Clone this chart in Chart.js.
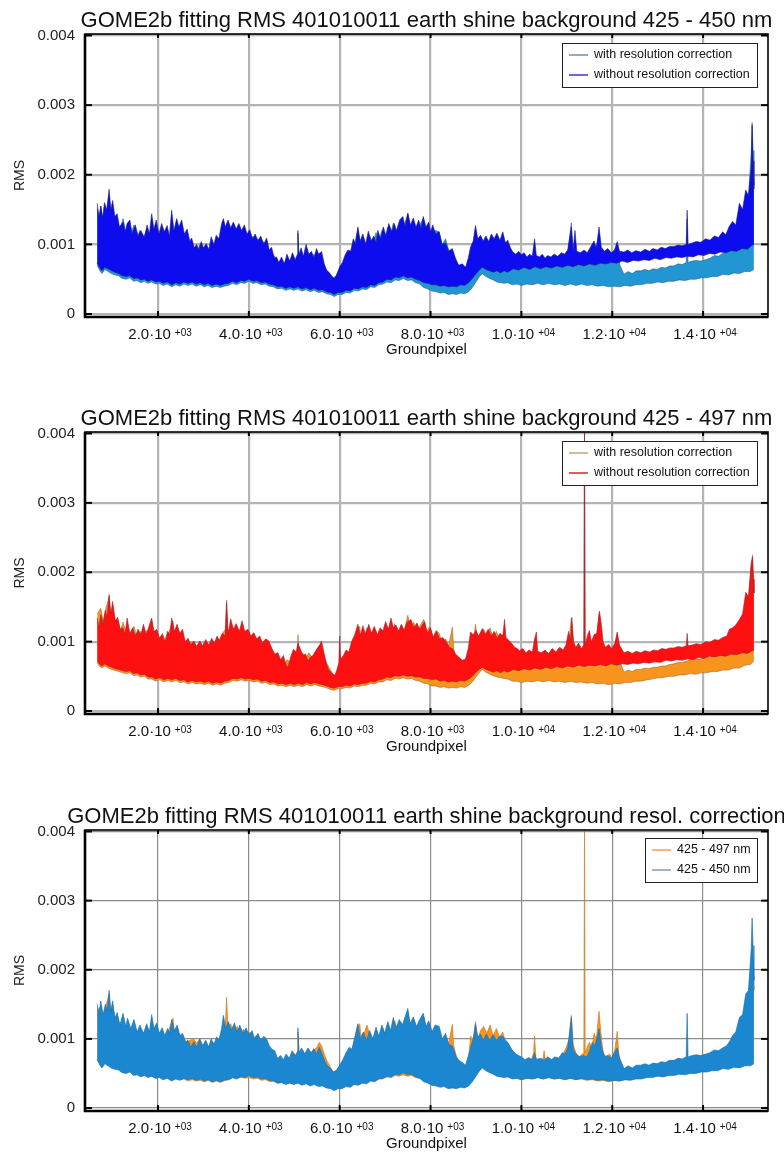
<!DOCTYPE html>
<html>
<head>
<meta charset="utf-8">
<title>GOME2b fitting RMS 401010011</title>
<script src="https://cdn.jsdelivr.net/npm/chart.js@4.4.1/dist/chart.umd.min.js"></script>
<style>
  html, body { margin: 0; padding: 0; background: #fff; }
  body { width: 784px; height: 1154px; position: relative; overflow: hidden; }
  .panel { position: absolute; left: 0; width: 784px; }
</style>
</head>
<body>
<div class="panel" style="top:0;height:398px"><canvas id="rms450"></canvas></div>
<div class="panel" style="top:398px;height:398px"><canvas id="rms497"></canvas></div>
<div class="panel" style="top:796px;height:358px"><canvas id="rmsResol"></canvas></div>
<script>
// ------------------------------------------------------------
// Values (groundpixel, RMS)
// Each noisy series is kept as its upper and lower envelope.
// ------------------------------------------------------------
var xTicks = [2000, 4000, 6000, 8000, 10000, 12000, 14000];
var yTicks = [0, 0.001, 0.002, 0.003, 0.004];

// 425 - 450 nm, without resolution correction
var wo450Top = [[660,0.00159],[700,0.00140],[740,0.00155],[780,0.00138],[820,0.00160],[870,0.00150],[923,0.00179],[960,0.00150],[1000,0.00163],[1050,0.00140],[1100,0.00144],[1150,0.00125],[1230,0.00132],[1280,0.00118],[1320,0.00130],[1380,0.00135],[1430,0.00115],[1500,0.00128],[1560,0.00112],[1620,0.00120],[1700,0.00110],[1760,0.00128],[1810,0.00115],[1860,0.00144],[1910,0.00122],[1960,0.00135],[2020,0.00115],[2080,0.00130],[2140,0.00118],[2200,0.00127],[2250,0.00112],[2300,0.00149],[2350,0.00120],[2410,0.00137],[2460,0.00125],[2520,0.00135],[2580,0.00115],[2640,0.00122],[2700,0.00105],[2740,0.00109],[2800,0.00095],[2850,0.00100],[2900,0.00092],[2950,0.00104],[3000,0.00095],[3060,0.00101],[3120,0.00093],[3170,0.00111],[3230,0.00100],[3280,0.00113],[3340,0.00108],[3400,0.00130],[3440,0.00137],[3480,0.00125],[3540,0.00135],[3600,0.00124],[3660,0.00132],[3720,0.00122],[3780,0.00130],[3840,0.00120],[3900,0.00128],[3960,0.00115],[4020,0.00121],[4080,0.00108],[4140,0.00115],[4200,0.00105],[4260,0.00112],[4330,0.00100],[4390,0.00109],[4450,0.00092],[4500,0.00096],[4560,0.00080],[4610,0.00082],[4660,0.00074],[4720,0.00082],[4780,0.00072],[4840,0.00086],[4900,0.00076],[4960,0.00088],[5020,0.00078],[5070,0.00086],[5080,0.00120],[5100,0.00085],[5150,0.00095],[5200,0.00083],[5260,0.00100],[5320,0.00086],[5380,0.00090],[5430,0.00080],[5490,0.00094],[5540,0.00085],[5600,0.00090],[5660,0.00072],[5710,0.00063],[5760,0.00060],[5820,0.00054],[5890,0.00051],[5940,0.00058],[6000,0.00068],[6060,0.00074],[6120,0.00085],[6180,0.00092],[6240,0.00090],[6300,0.00108],[6350,0.00100],[6400,0.00125],[6450,0.00105],[6510,0.00115],[6570,0.00100],[6630,0.00119],[6690,0.00105],[6750,0.00112],[6800,0.00102],[6840,0.00120],[6900,0.00108],[6960,0.00125],[7020,0.00112],[7080,0.00130],[7150,0.00118],[7200,0.00130],[7250,0.00120],[7320,0.00135],[7390,0.00140],[7440,0.00125],[7500,0.00145],[7560,0.00128],[7620,0.00138],[7680,0.00125],[7740,0.00135],[7790,0.00122],[7840,0.00140],[7900,0.00125],[7960,0.00132],[8000,0.00118],[8050,0.00128],[8110,0.00115],[8190,0.00118],[8250,0.00100],[8330,0.00102],[8400,0.00090],[8480,0.00094],[8550,0.00080],[8620,0.00070],[8700,0.00072],[8770,0.00067],[8830,0.00080],[8880,0.00096],[8940,0.00105],[8990,0.00127],[9040,0.00108],[9100,0.00113],[9160,0.00105],[9220,0.00112],[9280,0.00104],[9340,0.00115],[9400,0.00108],[9460,0.00116],[9530,0.00106],[9590,0.00118],[9650,0.00102],[9700,0.00106],[9760,0.00095],[9810,0.00089],[9880,0.00086],[9940,0.00090],[10000,0.00085],[10060,0.00088],[10120,0.00082],[10180,0.00086],[10240,0.00083],[10290,0.00108],[10330,0.00084],[10400,0.00082],[10460,0.00086],[10520,0.00080],[10580,0.00084],[10650,0.00082],[10720,0.00086],[10800,0.00083],[10880,0.00088],[10950,0.00086],[11020,0.00092],[11100,0.00125],[11140,0.00092],[11180,0.00120],[11220,0.00090],[11300,0.00088],[11380,0.00092],[11450,0.00088],[11520,0.00096],[11600,0.00105],[11650,0.00094],[11710,0.00125],[11760,0.00096],[11830,0.00090],[11900,0.00094],[11980,0.00088],[12050,0.00092],[12110,0.00104],[12160,0.00090],[12260,0.00089],[12340,0.00092],[12430,0.00088],[12520,0.00091],[12630,0.00089],[12720,0.00093],[12820,0.00090],[12900,0.00094],[12990,0.00092],[13080,0.00096],[13170,0.00094],[13260,0.00097],[13360,0.00097],[13450,0.00099],[13540,0.00098],[13630,0.00100],[13650,0.00149],[13670,0.00100],[13760,0.00102],[13850,0.00104],[13950,0.00103],[14060,0.00108],[14150,0.00106],[14250,0.00112],[14340,0.00110],[14430,0.00118],[14500,0.00114],[14570,0.00125],[14650,0.00133],[14720,0.00128],[14800,0.00159],[14870,0.00150],[14940,0.00178],[15000,0.00170],[15060,0.00210],[15080,0.00271],[15100,0.00220],[15120,0.00180]];
var wo450Bottom = [[660,0.00073],[720,0.00066],[765,0.00062],[830,0.00067],[900,0.00065],[980,0.00062],[1050,0.00060],[1130,0.00058],[1210,0.00055],[1300,0.00054],[1380,0.00055],[1460,0.00051],[1540,0.00052],[1620,0.00049],[1700,0.00050],[1780,0.00047],[1860,0.00049],[1950,0.00046],[2030,0.00047],[2110,0.00044],[2200,0.00046],[2300,0.00042],[2390,0.00045],[2480,0.00043],[2570,0.00046],[2660,0.00044],[2750,0.00046],[2840,0.00043],[2930,0.00045],[3020,0.00042],[3100,0.00044],[3190,0.00041],[3280,0.00043],[3370,0.00041],[3460,0.00043],[3550,0.00044],[3640,0.00047],[3730,0.00045],[3820,0.00048],[3910,0.00047],[4000,0.00050],[4090,0.00047],[4180,0.00048],[4270,0.00045],[4360,0.00046],[4450,0.00043],[4540,0.00042],[4630,0.00039],[4720,0.00040],[4810,0.00037],[4900,0.00039],[4990,0.00037],[5080,0.00039],[5170,0.00036],[5260,0.00038],[5350,0.00035],[5440,0.00037],[5530,0.00034],[5620,0.00035],[5710,0.00032],[5800,0.00031],[5880,0.00028],[5960,0.00031],[6050,0.00031],[6140,0.00034],[6230,0.00033],[6320,0.00037],[6410,0.00036],[6500,0.00039],[6590,0.00038],[6680,0.00042],[6770,0.00041],[6860,0.00045],[6950,0.00046],[7040,0.00050],[7130,0.00049],[7220,0.00053],[7310,0.00052],[7400,0.00055],[7490,0.00052],[7580,0.00053],[7670,0.00050],[7760,0.00048],[7850,0.00045],[7940,0.00044],[8030,0.00042],[8120,0.00042],[8210,0.00040],[8300,0.00041],[8390,0.00039],[8480,0.00040],[8570,0.00039],[8660,0.00042],[8750,0.00041],[8840,0.00045],[8920,0.00051],[8990,0.00057],[9070,0.00063],[9140,0.00067],[9220,0.00064],[9300,0.00062],[9380,0.00060],[9460,0.00062],[9540,0.00059],[9620,0.00062],[9700,0.00060],[9820,0.00065],[9940,0.00063],[10060,0.00067],[10180,0.00064],[10300,0.00068],[10420,0.00065],[10540,0.00068],[10660,0.00066],[10780,0.00069],[10900,0.00067],[11020,0.00070],[11140,0.00068],[11260,0.00071],[11380,0.00069],[11500,0.00072],[11620,0.00070],[11740,0.00073],[11860,0.00072],[11980,0.00074],[12100,0.00073],[12220,0.00076],[12340,0.00074],[12460,0.00077],[12580,0.00076],[12700,0.00078],[12820,0.00077],[12940,0.00080],[13060,0.00078],[13180,0.00081],[13300,0.00080],[13420,0.00082],[13540,0.00081],[13660,0.00083],[13780,0.00082],[13900,0.00085],[14020,0.00084],[14140,0.00087],[14260,0.00086],[14380,0.00089],[14500,0.00088],[14620,0.00091],[14740,0.00090],[14860,0.00094],[14980,0.00093],[15060,0.00098],[15120,0.00100]];

// 425 - 450 nm, with resolution correction
var w450Top = [[660,0.00151],[700,0.00135],[740,0.00155],[790,0.00135],[840,0.00150],[880,0.00140],[923,0.00170],[960,0.00140],[1000,0.00155],[1050,0.00130],[1100,0.00138],[1160,0.00120],[1230,0.00137],[1290,0.00118],[1330,0.00130],[1400,0.00115],[1470,0.00128],[1540,0.00110],[1600,0.00120],[1680,0.00108],[1750,0.00122],[1810,0.00110],[1860,0.00135],[1910,0.00115],[1970,0.00123],[2030,0.00108],[2090,0.00116],[2150,0.00105],[2210,0.00115],[2260,0.00108],[2300,0.00128],[2360,0.00112],[2420,0.00120],[2480,0.00105],[2540,0.00108],[2600,0.00095],[2660,0.00098],[2720,0.00088],[2790,0.00096],[2850,0.00088],[2920,0.00100],[2980,0.00090],[3050,0.00098],[3110,0.00088],[3170,0.00100],[3230,0.00092],[3290,0.00103],[3340,0.00098],[3400,0.00115],[3440,0.00134],[3490,0.00115],[3550,0.00125],[3610,0.00112],[3680,0.00123],[3740,0.00110],[3800,0.00120],[3870,0.00108],[3940,0.00116],[4000,0.00105],[4070,0.00112],[4130,0.00100],[4200,0.00108],[4260,0.00098],[4330,0.00104],[4390,0.00100],[4450,0.00090],[4510,0.00085],[4570,0.00083],[4630,0.00072],[4700,0.00076],[4760,0.00070],[4820,0.00078],[4890,0.00072],[4950,0.00083],[5020,0.00075],[5070,0.00082],[5080,0.00116],[5100,0.00080],[5160,0.00087],[5230,0.00078],[5300,0.00087],[5370,0.00080],[5430,0.00086],[5490,0.00078],[5550,0.00088],[5600,0.00080],[5660,0.00070],[5720,0.00062],[5790,0.00058],[5860,0.00052],[5930,0.00055],[6000,0.00062],[6070,0.00070],[6140,0.00080],[6210,0.00088],[6270,0.00085],[6330,0.00102],[6400,0.00122],[6450,0.00100],[6520,0.00110],[6590,0.00098],[6660,0.00112],[6730,0.00100],[6800,0.00117],[6860,0.00104],[6930,0.00120],[6990,0.00108],[7060,0.00125],[7120,0.00112],[7180,0.00131],[7240,0.00115],[7310,0.00128],[7380,0.00120],[7440,0.00132],[7500,0.00144],[7550,0.00122],[7620,0.00132],[7690,0.00118],[7760,0.00128],[7840,0.00137],[7900,0.00118],[7960,0.00126],[8030,0.00110],[8100,0.00120],[8190,0.00118],[8260,0.00100],[8330,0.00108],[8400,0.00092],[8480,0.00090],[8560,0.00075],[8620,0.00069],[8700,0.00066],[8770,0.00062],[8830,0.00075],[8880,0.00087],[8940,0.00100],[8990,0.00121],[9040,0.00102],[9100,0.00107],[9160,0.00098],[9230,0.00107],[9300,0.00098],[9380,0.00106],[9450,0.00098],[9520,0.00104],[9590,0.00104],[9650,0.00098],[9700,0.00095],[9760,0.00088],[9810,0.00083],[9880,0.00078],[9940,0.00076],[10000,0.00074],[10080,0.00070],[10160,0.00073],[10240,0.00070],[10290,0.00080],[10330,0.00070],[10420,0.00072],[10500,0.00069],[10580,0.00074],[10660,0.00070],[10740,0.00074],[10820,0.00072],[10900,0.00080],[10960,0.00078],[11020,0.00087],[11100,0.00131],[11140,0.00085],[11200,0.00078],[11280,0.00074],[11360,0.00076],[11440,0.00074],[11500,0.00082],[11560,0.00095],[11620,0.00090],[11680,0.00105],[11710,0.00115],[11760,0.00090],[11830,0.00074],[11900,0.00076],[11980,0.00072],[12050,0.00080],[12110,0.00087],[12170,0.00070],[12260,0.00057],[12350,0.00061],[12440,0.00058],[12530,0.00062],[12630,0.00062],[12720,0.00064],[12810,0.00062],[12900,0.00065],[12990,0.00064],[13080,0.00067],[13170,0.00066],[13260,0.00069],[13360,0.00069],[13450,0.00072],[13540,0.00071],[13630,0.00074],[13650,0.00137],[13670,0.00074],[13760,0.00076],[13850,0.00077],[13950,0.00076],[14060,0.00078],[14150,0.00080],[14250,0.00084],[14340,0.00083],[14430,0.00087],[14520,0.00090],[14600,0.00098],[14650,0.00105],[14720,0.00110],[14800,0.00131],[14870,0.00135],[14940,0.00165],[15000,0.00170],[15060,0.00230],[15080,0.00275],[15100,0.00235],[15120,0.00185]];
var w450Bottom = [[660,0.00070],[720,0.00062],[765,0.00058],[830,0.00064],[900,0.00061],[970,0.00058],[1050,0.00056],[1130,0.00055],[1210,0.00051],[1300,0.00050],[1380,0.00052],[1460,0.00047],[1540,0.00048],[1620,0.00045],[1700,0.00047],[1780,0.00044],[1860,0.00046],[1950,0.00043],[2030,0.00044],[2110,0.00041],[2200,0.00043],[2300,0.00039],[2390,0.00042],[2480,0.00040],[2570,0.00043],[2660,0.00041],[2750,0.00043],[2840,0.00040],[2930,0.00042],[3020,0.00039],[3100,0.00041],[3190,0.00038],[3280,0.00040],[3370,0.00038],[3460,0.00040],[3550,0.00041],[3640,0.00044],[3730,0.00042],[3820,0.00045],[3910,0.00044],[4000,0.00047],[4090,0.00044],[4180,0.00045],[4270,0.00042],[4360,0.00043],[4450,0.00040],[4540,0.00039],[4630,0.00036],[4720,0.00037],[4810,0.00034],[4900,0.00036],[4990,0.00034],[5080,0.00036],[5170,0.00033],[5260,0.00035],[5350,0.00032],[5440,0.00034],[5530,0.00031],[5620,0.00032],[5710,0.00029],[5800,0.00028],[5880,0.00025],[5960,0.00028],[6050,0.00028],[6140,0.00031],[6230,0.00030],[6320,0.00034],[6410,0.00033],[6500,0.00036],[6590,0.00035],[6680,0.00039],[6770,0.00038],[6860,0.00042],[6950,0.00043],[7040,0.00046],[7130,0.00045],[7220,0.00049],[7310,0.00048],[7400,0.00051],[7490,0.00048],[7580,0.00049],[7670,0.00045],[7760,0.00043],[7850,0.00038],[7940,0.00036],[8030,0.00033],[8120,0.00032],[8210,0.00030],[8300,0.00031],[8390,0.00028],[8480,0.00029],[8570,0.00028],[8660,0.00030],[8750,0.00029],[8840,0.00032],[8920,0.00038],[8990,0.00045],[9070,0.00053],[9140,0.00058],[9220,0.00054],[9300,0.00051],[9380,0.00049],[9460,0.00046],[9540,0.00045],[9620,0.00044],[9700,0.00045],[9800,0.00042],[9900,0.00043],[10000,0.00041],[10120,0.00043],[10240,0.00042],[10360,0.00044],[10480,0.00042],[10600,0.00044],[10720,0.00042],[10840,0.00043],[10960,0.00041],[11080,0.00043],[11200,0.00041],[11320,0.00043],[11440,0.00041],[11560,0.00042],[11680,0.00040],[11800,0.00041],[11920,0.00039],[12040,0.00040],[12160,0.00039],[12280,0.00041],[12400,0.00040],[12520,0.00042],[12640,0.00042],[12760,0.00044],[12880,0.00044],[13000,0.00046],[13120,0.00045],[13240,0.00047],[13360,0.00047],[13480,0.00049],[13600,0.00048],[13720,0.00050],[13840,0.00050],[13960,0.00052],[14080,0.00052],[14200,0.00054],[14320,0.00054],[14440,0.00057],[14560,0.00056],[14680,0.00059],[14800,0.00058],[14920,0.00061],[15040,0.00061],[15120,0.00064]];

// 425 - 497 nm, without resolution correction
var wo497Top = [[660,0.00134],[700,0.00120],[740,0.00139],[790,0.00125],[840,0.00145],[880,0.00135],[923,0.00168],[960,0.00140],[1000,0.00158],[1060,0.00130],[1110,0.00135],[1170,0.00118],[1230,0.00120],[1270,0.00110],[1320,0.00134],[1380,0.00112],[1440,0.00120],[1500,0.00108],[1560,0.00118],[1620,0.00110],[1680,0.00125],[1740,0.00110],[1800,0.00122],[1860,0.00134],[1910,0.00115],[1970,0.00117],[2030,0.00105],[2090,0.00110],[2150,0.00100],[2210,0.00115],[2260,0.00110],[2300,0.00134],[2360,0.00115],[2420,0.00125],[2480,0.00112],[2540,0.00118],[2600,0.00100],[2660,0.00105],[2720,0.00095],[2790,0.00101],[2850,0.00092],[2920,0.00101],[2980,0.00094],[3050,0.00103],[3120,0.00095],[3180,0.00105],[3240,0.00098],[3300,0.00108],[3350,0.00102],[3420,0.00112],[3480,0.00108],[3510,0.00156],[3540,0.00110],[3600,0.00133],[3660,0.00118],[3720,0.00126],[3790,0.00115],[3850,0.00130],[3910,0.00115],[3980,0.00118],[4040,0.00108],[4110,0.00113],[4170,0.00104],[4240,0.00108],[4300,0.00098],[4370,0.00104],[4440,0.00101],[4510,0.00090],[4570,0.00082],[4640,0.00084],[4700,0.00074],[4760,0.00080],[4820,0.00066],[4860,0.00063],[4920,0.00078],[4980,0.00089],[5040,0.00085],[5080,0.00098],[5130,0.00090],[5190,0.00080],[5250,0.00082],[5300,0.00072],[5360,0.00078],[5420,0.00080],[5490,0.00089],[5550,0.00094],[5600,0.00101],[5650,0.00085],[5700,0.00070],[5750,0.00060],[5820,0.00055],[5890,0.00051],[5940,0.00060],[5980,0.00070],[6000,0.00108],[6020,0.00075],[6080,0.00080],[6140,0.00088],[6200,0.00085],[6260,0.00100],[6330,0.00110],[6400,0.00125],[6450,0.00108],[6510,0.00123],[6570,0.00110],[6640,0.00125],[6700,0.00112],[6760,0.00122],[6830,0.00110],[6890,0.00120],[6950,0.00115],[7010,0.00129],[7070,0.00118],[7130,0.00134],[7180,0.00120],[7240,0.00124],[7300,0.00115],[7360,0.00125],[7420,0.00116],[7480,0.00128],[7570,0.00132],[7630,0.00120],[7700,0.00127],[7760,0.00118],[7830,0.00125],[7870,0.00129],[7930,0.00112],[8000,0.00120],[8060,0.00106],[8130,0.00115],[8200,0.00104],[8270,0.00106],[8350,0.00099],[8410,0.00092],[8480,0.00090],[8550,0.00082],[8620,0.00078],[8700,0.00073],[8770,0.00075],[8830,0.00090],[8880,0.00114],[8940,0.00110],[9000,0.00116],[9060,0.00108],[9140,0.00119],[9200,0.00110],[9270,0.00118],[9340,0.00108],[9400,0.00115],[9460,0.00105],[9530,0.00112],[9590,0.00108],[9630,0.00132],[9660,0.00106],[9720,0.00102],[9780,0.00098],[9850,0.00092],[9910,0.00090],[9960,0.00087],[10030,0.00090],[10100,0.00084],[10170,0.00088],[10240,0.00085],[10300,0.00106],[10330,0.00114],[10360,0.00086],[10440,0.00084],[10520,0.00088],[10600,0.00083],[10680,0.00090],[10760,0.00085],[10840,0.00092],[10920,0.00088],[10980,0.00095],[11040,0.00115],[11080,0.00100],[11110,0.00135],[11150,0.00100],[11200,0.00092],[11260,0.00098],[11320,0.00090],[11375,0.00095],[11390,0.00410],[11405,0.00095],[11460,0.00110],[11500,0.00116],[11540,0.00100],[11600,0.00110],[11660,0.00112],[11720,0.00144],[11760,0.00125],[11800,0.00100],[11850,0.00092],[11920,0.00096],[11990,0.00090],[12060,0.00098],[12110,0.00114],[12160,0.00095],[12260,0.00084],[12350,0.00086],[12440,0.00083],[12530,0.00086],[12630,0.00084],[12720,0.00087],[12820,0.00085],[12910,0.00088],[13000,0.00087],[13090,0.00090],[13180,0.00089],[13270,0.00091],[13360,0.00091],[13450,0.00093],[13540,0.00092],[13630,0.00094],[13650,0.00112],[13670,0.00094],[13760,0.00095],[13850,0.00097],[13950,0.00096],[14060,0.00100],[14150,0.00099],[14250,0.00103],[14340,0.00102],[14430,0.00106],[14520,0.00108],[14580,0.00118],[14650,0.00120],[14720,0.00124],[14800,0.00132],[14870,0.00140],[14940,0.00171],[15000,0.00165],[15060,0.00213],[15090,0.00222],[15110,0.00190],[15120,0.00170]];
var wo497Bottom = [[660,0.00072],[720,0.00067],[765,0.00065],[830,0.00068],[900,0.00065],[980,0.00063],[1060,0.00061],[1140,0.00060],[1220,0.00058],[1300,0.00057],[1380,0.00058],[1460,0.00054],[1540,0.00055],[1620,0.00052],[1700,0.00053],[1780,0.00049],[1860,0.00049],[1950,0.00046],[2040,0.00048],[2130,0.00045],[2220,0.00047],[2300,0.00045],[2390,0.00047],[2480,0.00044],[2570,0.00045],[2660,0.00042],[2750,0.00044],[2840,0.00042],[2930,0.00043],[3020,0.00041],[3110,0.00043],[3200,0.00040],[3290,0.00042],[3380,0.00040],[3470,0.00043],[3560,0.00044],[3650,0.00047],[3740,0.00046],[3830,0.00048],[3920,0.00046],[4010,0.00047],[4100,0.00045],[4190,0.00046],[4280,0.00043],[4370,0.00044],[4460,0.00041],[4550,0.00042],[4640,0.00039],[4730,0.00040],[4820,0.00038],[4910,0.00040],[5000,0.00038],[5090,0.00040],[5180,0.00038],[5270,0.00041],[5360,0.00039],[5450,0.00041],[5540,0.00039],[5630,0.00038],[5720,0.00036],[5800,0.00034],[5880,0.00033],[5960,0.00035],[6050,0.00035],[6140,0.00037],[6230,0.00036],[6320,0.00039],[6410,0.00038],[6500,0.00040],[6590,0.00040],[6680,0.00043],[6770,0.00042],[6860,0.00045],[6950,0.00046],[7040,0.00049],[7130,0.00048],[7220,0.00051],[7310,0.00050],[7400,0.00052],[7490,0.00050],[7580,0.00051],[7670,0.00049],[7760,0.00049],[7850,0.00047],[7940,0.00047],[8030,0.00045],[8120,0.00046],[8210,0.00043],[8300,0.00044],[8390,0.00042],[8480,0.00043],[8570,0.00042],[8660,0.00044],[8750,0.00043],[8840,0.00046],[8920,0.00050],[8990,0.00055],[9070,0.00060],[9140,0.00063],[9220,0.00060],[9300,0.00058],[9380,0.00056],[9460,0.00058],[9540,0.00055],[9620,0.00058],[9700,0.00056],[9820,0.00060],[9940,0.00058],[10060,0.00061],[10180,0.00059],[10300,0.00062],[10420,0.00060],[10540,0.00063],[10660,0.00061],[10780,0.00064],[10900,0.00062],[11020,0.00065],[11140,0.00063],[11260,0.00066],[11380,0.00064],[11500,0.00066],[11620,0.00065],[11740,0.00067],[11860,0.00065],[11980,0.00068],[12100,0.00066],[12220,0.00068],[12340,0.00067],[12460,0.00069],[12580,0.00068],[12700,0.00070],[12820,0.00069],[12940,0.00071],[13060,0.00070],[13180,0.00073],[13300,0.00072],[13420,0.00074],[13540,0.00073],[13660,0.00075],[13780,0.00074],[13900,0.00077],[14020,0.00076],[14140,0.00079],[14260,0.00078],[14380,0.00080],[14500,0.00079],[14620,0.00082],[14740,0.00081],[14860,0.00084],[14980,0.00083],[15060,0.00086],[15120,0.00088]];

// 425 - 497 nm, with resolution correction
var w497Top = [[660,0.00140],[740,0.00148],[790,0.00130],[840,0.00145],[923,0.00165],[960,0.00135],[1000,0.00150],[1060,0.00125],[1110,0.00132],[1170,0.00115],[1230,0.00128],[1300,0.00112],[1400,0.00110],[1470,0.00122],[1540,0.00105],[1610,0.00115],[1690,0.00104],[1750,0.00116],[1810,0.00106],[1860,0.00128],[1910,0.00110],[1970,0.00118],[2030,0.00104],[2100,0.00112],[2160,0.00100],[2230,0.00112],[2300,0.00125],[2330,0.00130],[2360,0.00108],[2430,0.00116],[2490,0.00102],[2560,0.00105],[2620,0.00094],[2700,0.00098],[2780,0.00100],[2850,0.00094],[2920,0.00100],[2990,0.00090],[3060,0.00096],[3130,0.00086],[3200,0.00096],[3270,0.00090],[3340,0.00098],[3400,0.00110],[3480,0.00118],[3510,0.00160],[3540,0.00115],[3600,0.00122],[3670,0.00108],[3740,0.00118],[3810,0.00106],[3880,0.00114],[3950,0.00102],[4020,0.00110],[4090,0.00098],[4160,0.00105],[4230,0.00095],[4300,0.00100],[4390,0.00096],[4450,0.00086],[4520,0.00080],[4600,0.00070],[4680,0.00072],[4760,0.00066],[4840,0.00074],[4920,0.00070],[4990,0.00080],[5060,0.00074],[5080,0.00110],[5110,0.00078],[5180,0.00084],[5250,0.00076],[5320,0.00084],[5390,0.00078],[5450,0.00085],[5500,0.00088],[5550,0.00095],[5600,0.00090],[5660,0.00078],[5720,0.00068],[5790,0.00060],[5860,0.00052],[5930,0.00053],[6000,0.00060],[6070,0.00068],[6140,0.00078],[6210,0.00085],[6270,0.00083],[6330,0.00100],[6400,0.00118],[6440,0.00122],[6480,0.00098],[6540,0.00108],[6600,0.00120],[6660,0.00106],[6730,0.00098],[6800,0.00112],[6870,0.00100],[6940,0.00117],[7000,0.00105],[7070,0.00120],[7140,0.00108],[7210,0.00126],[7280,0.00112],[7350,0.00124],[7420,0.00116],[7500,0.00138],[7560,0.00118],[7630,0.00128],[7700,0.00114],[7780,0.00124],[7850,0.00132],[7910,0.00114],[7980,0.00122],[8050,0.00106],[8120,0.00116],[8190,0.00112],[8260,0.00097],[8330,0.00104],[8400,0.00094],[8480,0.00121],[8510,0.00090],[8580,0.00072],[8650,0.00066],[8720,0.00063],[8790,0.00060],[8850,0.00080],[8880,0.00104],[8940,0.00100],[8990,0.00125],[9040,0.00100],[9100,0.00112],[9170,0.00118],[9240,0.00108],[9310,0.00120],[9380,0.00104],[9450,0.00115],[9520,0.00102],[9590,0.00110],[9650,0.00096],[9710,0.00092],[9770,0.00086],[9830,0.00080],[9900,0.00075],[9970,0.00072],[10050,0.00068],[10130,0.00071],[10210,0.00068],[10270,0.00080],[10290,0.00104],[10320,0.00072],[10400,0.00069],[10480,0.00072],[10500,0.00083],[10530,0.00070],[10610,0.00072],[10690,0.00069],[10770,0.00073],[10850,0.00071],[10930,0.00080],[10990,0.00088],[11050,0.00100],[11100,0.00134],[11140,0.00092],[11200,0.00080],[11270,0.00074],[11340,0.00078],[11375,0.00080],[11390,0.00405],[11405,0.00080],[11460,0.00090],[11500,0.00095],[11550,0.00085],[11600,0.00108],[11650,0.00100],[11710,0.00140],[11750,0.00110],[11800,0.00080],[11870,0.00074],[11940,0.00078],[12000,0.00072],[12060,0.00085],[12110,0.00111],[12150,0.00075],[12260,0.00056],[12350,0.00059],[12440,0.00057],[12530,0.00060],[12630,0.00060],[12720,0.00062],[12810,0.00061],[12900,0.00063],[12990,0.00063],[13080,0.00065],[13170,0.00065],[13260,0.00067],[13360,0.00068],[13450,0.00070],[13540,0.00070],[13630,0.00072],[13760,0.00074],[13850,0.00075],[13950,0.00075],[14060,0.00077],[14150,0.00078],[14250,0.00082],[14340,0.00081],[14430,0.00085],[14520,0.00088],[14600,0.00095],[14650,0.00100],[14720,0.00105],[14800,0.00125],[14870,0.00128],[14940,0.00155],[15000,0.00160],[15060,0.00210],[15090,0.00225],[15110,0.00190],[15120,0.00170]];
var w497Bottom = [[660,0.00069],[720,0.00064],[765,0.00062],[830,0.00065],[900,0.00062],[980,0.00060],[1060,0.00058],[1140,0.00057],[1220,0.00055],[1300,0.00054],[1380,0.00055],[1460,0.00051],[1540,0.00052],[1620,0.00049],[1700,0.00050],[1780,0.00046],[1860,0.00046],[1950,0.00043],[2040,0.00045],[2130,0.00042],[2220,0.00044],[2300,0.00042],[2390,0.00044],[2480,0.00041],[2570,0.00042],[2660,0.00039],[2750,0.00041],[2840,0.00039],[2930,0.00040],[3020,0.00038],[3110,0.00040],[3200,0.00037],[3290,0.00039],[3380,0.00037],[3470,0.00040],[3560,0.00041],[3650,0.00044],[3740,0.00043],[3830,0.00045],[3920,0.00043],[4010,0.00044],[4100,0.00042],[4190,0.00043],[4280,0.00040],[4370,0.00041],[4460,0.00038],[4550,0.00039],[4640,0.00036],[4730,0.00037],[4820,0.00035],[4910,0.00037],[5000,0.00035],[5090,0.00037],[5180,0.00035],[5270,0.00038],[5360,0.00036],[5450,0.00038],[5540,0.00036],[5630,0.00035],[5720,0.00033],[5800,0.00031],[5880,0.00030],[5960,0.00032],[6050,0.00032],[6140,0.00034],[6230,0.00033],[6320,0.00036],[6410,0.00035],[6500,0.00037],[6590,0.00037],[6680,0.00040],[6770,0.00039],[6860,0.00042],[6950,0.00042],[7040,0.00045],[7130,0.00044],[7220,0.00047],[7310,0.00046],[7400,0.00048],[7490,0.00046],[7580,0.00047],[7670,0.00044],[7760,0.00043],[7850,0.00040],[7940,0.00039],[8030,0.00036],[8120,0.00036],[8210,0.00034],[8300,0.00035],[8390,0.00033],[8480,0.00034],[8570,0.00033],[8660,0.00035],[8750,0.00034],[8840,0.00037],[8920,0.00042],[8990,0.00048],[9070,0.00055],[9140,0.00060],[9220,0.00056],[9300,0.00053],[9380,0.00051],[9460,0.00049],[9540,0.00048],[9620,0.00047],[9700,0.00046],[9800,0.00043],[9900,0.00043],[10000,0.00041],[10120,0.00043],[10240,0.00042],[10360,0.00044],[10480,0.00042],[10600,0.00044],[10720,0.00042],[10840,0.00043],[10960,0.00041],[11080,0.00043],[11200,0.00041],[11320,0.00042],[11440,0.00040],[11560,0.00041],[11680,0.00039],[11800,0.00040],[11920,0.00038],[12040,0.00040],[12160,0.00039],[12280,0.00041],[12400,0.00041],[12520,0.00043],[12640,0.00043],[12760,0.00045],[12880,0.00046],[13000,0.00048],[13120,0.00048],[13240,0.00050],[13360,0.00050],[13480,0.00052],[13600,0.00052],[13720,0.00054],[13840,0.00053],[13960,0.00055],[14080,0.00055],[14200,0.00057],[14320,0.00057],[14440,0.00059],[14560,0.00059],[14680,0.00062],[14800,0.00062],[14920,0.00066],[15040,0.00067],[15120,0.00072]];

var FONT = '"Liberation Sans", Arial, Helvetica, sans-serif';
Chart.defaults.font.family = FONT;
Chart.defaults.color = '#222';

// Upper envelope filled down to the lower envelope ('-1')
function band(label, top, bottom, fillColor, edgeColor, legendColor, order) {
    return [
        { label: label + ' (min)', data: bottom, fill: false, borderColor: edgeColor,
          borderWidth: 0.8, pointRadius: 0, order: order },
        { label: label, data: top, fill: '-1', backgroundColor: fillColor, borderColor: edgeColor,
          borderWidth: 0.8, pointRadius: 0, order: order, legendColor: legendColor }
    ];
}

function line(ctx, x1, y1, x2, y2) {
    ctx.beginPath(); ctx.moveTo(x1, y1); ctx.lineTo(x2, y2); ctx.stroke();
}

// title, black frame, inward ticks, x labels with exponent, boxed legend
var decor = {
    id: 'decor',
    afterDraw: function (chart, args, o) {
        var ctx = chart.ctx, a = chart.chartArea, x = chart.scales.x, y = chart.scales.y;
        var cx = (a.left + a.right) / 2;
        ctx.save();
        ctx.fillStyle = '#111';
        ctx.textBaseline = 'alphabetic';

        ctx.font = '22px ' + FONT;
        ctx.textAlign = 'center';
        ctx.fillText(o.title, cx, a.top - 7);

        ctx.strokeStyle = '#000';
        ctx.lineWidth = 1.6;
        ctx.strokeRect(a.left, a.top, a.right - a.left, a.bottom - a.top);
        ctx.lineWidth = 2.6;
        ctx.beginPath();
        ctx.moveTo(a.left, a.top); ctx.lineTo(a.left, a.bottom); ctx.lineTo(a.right, a.bottom);
        ctx.stroke();

        ctx.lineWidth = 2;
        yTicks.forEach(function (v) {
            var py = y.getPixelForValue(v);
            line(ctx, a.left, py, a.left + 7, py);
            line(ctx, a.right - 7, py, a.right, py);
        });
        xTicks.forEach(function (v) {
            var px = x.getPixelForValue(v);
            line(ctx, px, a.bottom, px, a.bottom - 6);
            line(ctx, px, a.top, px, a.top + 4);
        });

        xTicks.forEach(function (v) {
            var exp = Math.floor(Math.log10(v));
            var main = (v / Math.pow(10, exp)).toFixed(1) + '\u00b710';
            var sup = '+' + String(exp).padStart(2, '0');
            ctx.font = '15px ' + FONT;
            var w1 = ctx.measureText(main).width;
            ctx.font = '10px ' + FONT;
            var w2 = ctx.measureText(sup).width;
            var left = x.getPixelForValue(v) + 2 - (w1 + 4 + w2) / 2;
            ctx.textAlign = 'left';
            ctx.font = '15px ' + FONT;
            ctx.fillText(main, left, a.bottom + 22);
            ctx.font = '10px ' + FONT;
            ctx.fillText(sup, left + w1 + 4, a.bottom + 19);
        });

        ctx.font = '15px ' + FONT;
        ctx.textAlign = 'center';
        ctx.fillText('Groundpixel', cx, a.bottom + 37);

        // legend box
        var items = chart.data.datasets.filter(function (d) { return d.legendColor; });
        var bx = a.right - 11 - o.legendWidth, by = a.top + o.legendTop;
        ctx.fillStyle = '#fff';
        ctx.fillRect(bx, by, o.legendWidth, 44);
        ctx.strokeStyle = '#222';
        ctx.lineWidth = 1;
        ctx.strokeRect(bx + 0.5, by + 0.5, o.legendWidth, 44);
        ctx.font = '12.5px ' + FONT;
        ctx.textAlign = 'left';
        ctx.textBaseline = 'middle';
        items.forEach(function (d, i) {
            var ry = by + 12 + i * 20;
            ctx.strokeStyle = d.legendColor;
            ctx.lineWidth = 1.5;
            line(ctx, bx + 7, ry, bx + 26, ry);
            ctx.fillStyle = '#111';
            ctx.fillText(d.label, bx + 32, ry);
        });
        ctx.restore();
    }
};

function makeChart(canvasId, datasets, title, plotHeight, legendWidth, legendTop, gridColor, gridWidth) {
    var box = document.getElementById(canvasId).parentNode;
    var xAxisHeight = box.clientHeight - 34 - plotHeight;
    return new Chart(document.getElementById(canvasId), {
        type: 'line',
        data: { datasets: datasets },
        plugins: [decor],
        options: {
            responsive: true,
            maintainAspectRatio: false,
            animation: false,
            layout: { padding: { top: 34, right: 16, left: 0, bottom: 0 } },
            elements: { line: { tension: 0 } },
            plugins: {
                legend: { display: false },
                tooltip: { enabled: false },
                decor: { title: title, legendWidth: legendWidth, legendTop: legendTop }
            },
            scales: {
                x: {
                    type: 'linear',
                    min: 392, max: 15430,
                    afterBuildTicks: function (s) { s.ticks = xTicks.map(function (v) { return { value: v }; }); },
                    afterFit: function (s) { s.height = xAxisHeight; },
                    ticks: { display: false },
                    grid: { color: gridColor, lineWidth: gridWidth, drawTicks: false },
                    border: { display: false }
                },
                y: {
                    min: -0.000043, max: 0.0040215,
                    afterBuildTicks: function (s) { s.ticks = yTicks.map(function (v) { return { value: v }; }); },
                    afterFit: function (s) { s.width = 85; },
                    ticks: {
                        padding: 10,
                        color: '#222',
                        font: { size: 15 },
                        callback: function (v) { return v === 0 ? '0' : v.toFixed(3); }
                    },
                    title: { display: true, text: 'RMS', font: { size: 14 }, color: '#222', padding: { top: 12, bottom: 0 } },
                    grid: { color: gridColor, lineWidth: gridWidth, drawTicks: false },
                    border: { display: false }
                }
            }
        }
    });
}

makeChart('rms450',
    band('with resolution correction', w450Top, w450Bottom, '#2196d3', 'rgba(40,90,130,0.7)', '#6f8fa0', 2)
        .concat(band('without resolution correction', wo450Top, wo450Bottom, '#0c0cee', 'rgba(30,30,110,0.75)', '#3434d8', 1)),
    'GOME2b fitting RMS 401010011 earth shine background 425 - 450 nm', 283, 195, 9, '#b4b4b4', 2.2);

makeChart('rms497',
    band('with resolution correction', w497Top, w497Bottom, '#f7941d', 'rgba(150,100,60,0.7)', '#c8a080', 2)
        .concat(band('without resolution correction', wo497Top, wo497Bottom, '#ff1010', 'rgba(150,30,50,0.7)', '#e02424', 1)),
    'GOME2b fitting RMS 401010011 earth shine background 425 - 497 nm', 282, 195, 9, '#b4b4b4', 2.2);

makeChart('rmsResol',
    band('425 - 497 nm', w497Top, w497Bottom, '#f7941d', 'rgba(200,120,40,0.8)', '#f5a050', 2)
        .concat(band('425 - 450 nm', w450Top, w450Bottom, '#1b87d1', 'rgba(30,110,170,0.8)', '#7f9fb0', 1)),
    'GOME2b fitting RMS 401010011 earth shine background resol. correction', 281, 112, 8, '#8c8c8c', 1.2);
</script>
</body>
</html>
